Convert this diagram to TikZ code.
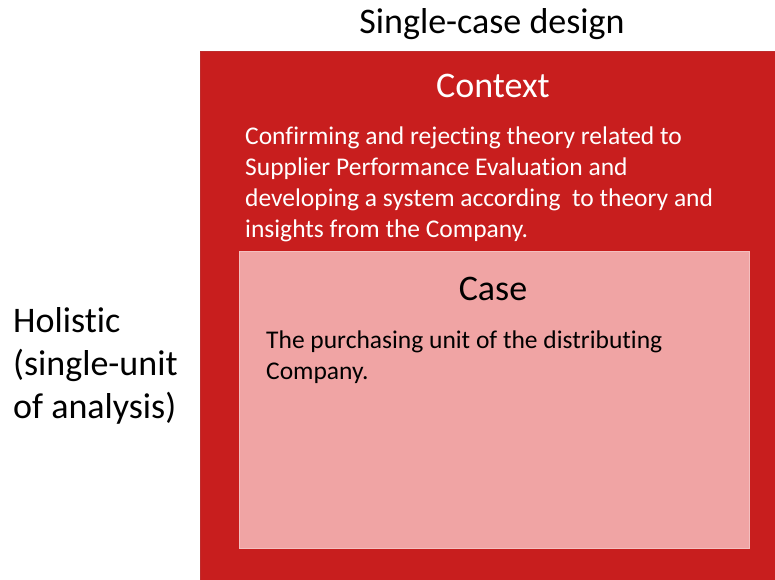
\documentclass[tikz,border=0pt]{standalone}
\usepackage{fontspec}
\setmainfont{Carlito}[RawFeature={-liga;-clig;-dlig}]
\definecolor{boxred}{HTML}{C81E1E}
\definecolor{boxpink}{HTML}{F0A4A4}
\tikzset{
  panel/.style={anchor=north west, inner sep=0pt, outer sep=0pt},
  bigtext/.style={font=\fontsize{36}{43}\selectfont, inner sep=0pt, anchor=base},
  sideline/.style={font=\fontsize{36}{43}\selectfont, inner sep=0pt, anchor=base west},
  bodytext/.style={font=\fontsize{25.5}{31}\selectfont, inner sep=0pt, anchor=base west},
}
\begin{document}
\begin{tikzpicture}[x=1pt,y=-1pt]
\useasboundingbox (0,0) rectangle (775,579);
\node[panel, fill=boxred, draw=boxred!85!gray, line width=0.8pt, minimum width=580pt, minimum height=530pt] (outer) at (200,51) {};
\node[panel, fill=boxpink, draw=boxpink!70!white, line width=0.8pt, minimum width=510pt, minimum height=297pt] (inner) at (239,251) {};
\node[bigtext] (title) at (492,33) {Single-case design};
\node[bigtext, text=white] (ctxtitle) at (493,97) {Context};
\node[bodytext, text=white] (ctx1) at (245,144) {Confirming and rejecting theory related to};
\node[bodytext, text=white] (ctx2) at (245,175) {Supplier Performance Evaluation and};
\node[bodytext, text=white] (ctx3) at (245,206) {developing a system according\ \ to theory and};
\node[bodytext, text=white] (ctx4) at (245,237) {insights from the Company.};
\node[bigtext] (casetitle) at (493,300) {Case};
\node[bodytext] (case1) at (266,348) {The purchasing unit of the distributing};
\node[bodytext] (case2) at (266,379) {Company.};
\node[sideline] (side1) at (13,332) {Holistic};
\node[sideline] (side2) at (13,375) {(single-unit};
\node[sideline] (side3) at (13,418) {of analysis)};
\end{tikzpicture}
\end{document}
